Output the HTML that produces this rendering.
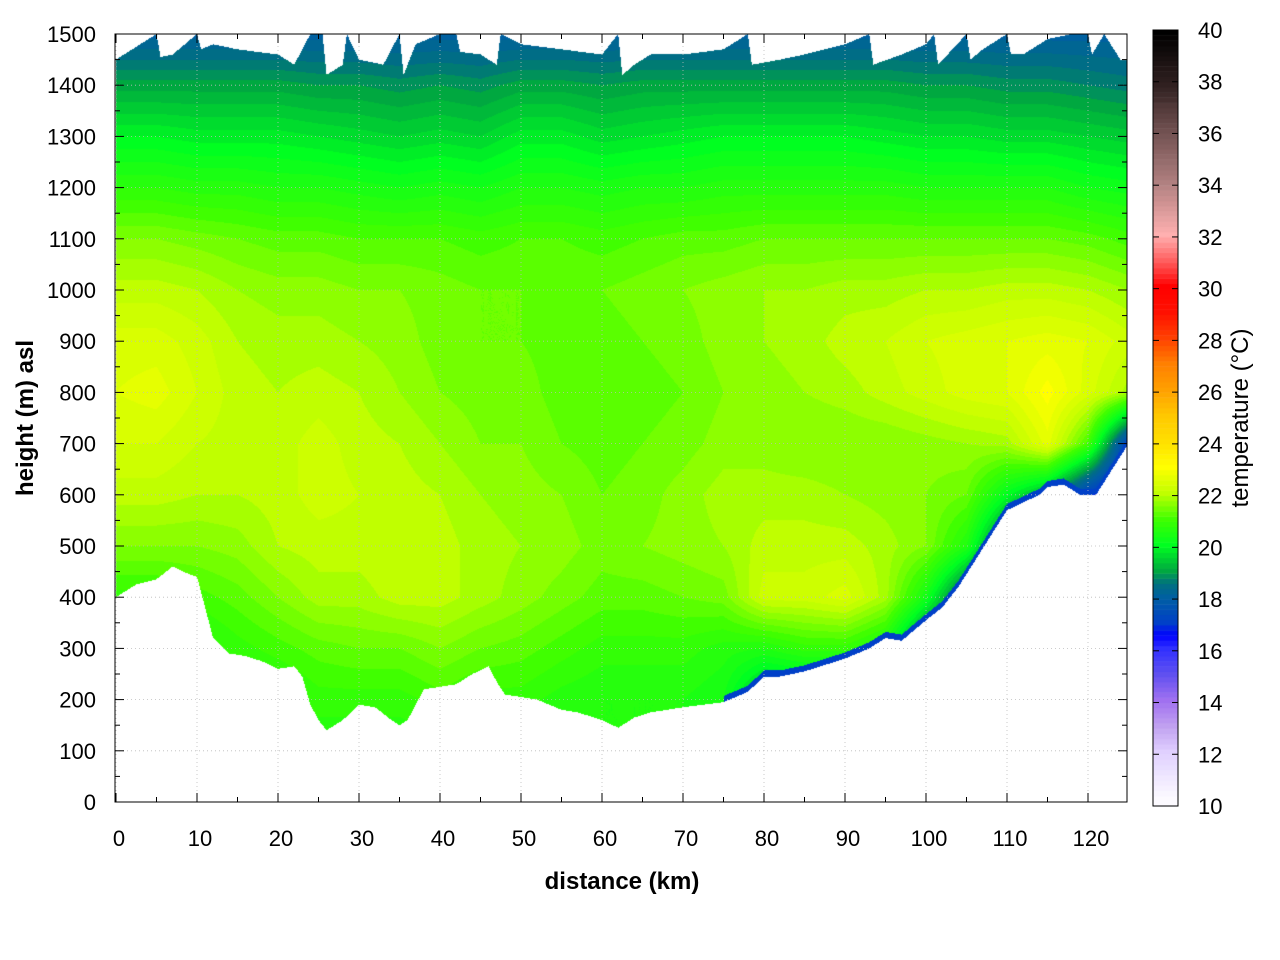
<!DOCTYPE html>
<html><head><meta charset="utf-8"><style>
html,body{margin:0;padding:0;background:#fff;width:1280px;height:960px;overflow:hidden}
#wrap{position:relative;width:1280px;height:960px}
canvas{position:absolute;left:0;top:0}
svg{position:absolute;left:0;top:0}
text{font-family:"Liberation Sans",sans-serif;fill:#000}
</style></head><body>
<div id="wrap">
<canvas id="heat" width="1280" height="960"></canvas>
<svg id="ov" width="1280" height="960"></svg>
</div>
<script>
const distances=[0,5,10,15,20,25,30,35,40,45,50,55,60,65,70,75,80,85,90,95,100,105,110,115,120,125];
const heights=[0,100,200,300,400,500,600,700,800,900,1000,1100,1200,1300,1400,1500];
const groundDist=[0,2.5,5,7,9,10,11,12,14,16,18,20,22,23,24,25,26,28,30,32,34,35,36,38,40,42,44,46,47,48,50,52,55,57,60,62,64,66,68,70,75,78,80,82,85,90,93,95,97,100,102,104,106,108,110,112,114,115,117,119,121,123,125];
const groundHeight=[400,425,435,460,445,440,380,320,290,285,275,260,265,245,190,160,140,160,190,185,160,150,160,220,225,230,250,265,235,210,205,200,180,175,160,145,165,175,180,185,195,215,245,245,255,280,300,320,315,355,380,420,470,520,570,585,600,615,620,600,600,650,700];
const topDist=[0,2.5,5,5.5,7,10,10.5,12,15,20,22,24,25.5,26,28,28.5,30,33,35,35.5,37,40,42,42.5,45,47,47.5,50,55,60,62,62.5,64,66,70,75,78,78.5,82,85,90,93,93.5,97,100,101,101.5,105,105.5,107,110,110.5,112,115,118,120,120.5,122,124,125];
const topHeight=[1450,1475,1500,1455,1460,1500,1470,1480,1470,1460,1440,1500,1500,1420,1440,1500,1450,1440,1500,1420,1480,1500,1500,1465,1460,1440,1500,1480,1470,1460,1500,1420,1440,1460,1460,1470,1500,1440,1450,1460,1480,1500,1440,1460,1480,1500,1440,1500,1450,1470,1500,1460,1460,1490,1500,1500,1460,1500,1450,1450];
const temps=[
[20.5,20.5,20.5,20.5,20.8,21.5,22,22.3,22.5,22.4,22,21.5,20.7,19.9,19.0,18.0],
[20.5,20.5,20.5,20.5,20.8,21.5,22,22.3,22.6,22.4,22,21.5,20.7,19.9,19.0,18.0],
[20.5,20.5,20.5,20.5,21,21.5,21.9,22.1,22.3,22.2,21.9,21.4,20.6,19.8,19.0,18.0],
[20.5,20.5,20.5,20.8,21.2,21.6,21.9,22,22,21.9,21.7,21.3,20.6,19.8,19.0,18.0],
[20.5,20.5,20.5,21,21.5,21.9,22,22,21.9,21.8,21.6,21.2,20.5,19.8,19.0,18.0],
[20.5,20.5,20.8,21.2,21.8,22,22.2,22.2,22,21.8,21.6,21.2,20.5,19.7,18.9,18.0],
[20.5,20.5,20.8,21.3,21.8,22,22.1,22,21.9,21.7,21.5,21.1,20.4,19.6,18.9,18.0],
[20.5,20.5,20.8,21.3,22,22.1,22,21.9,21.7,21.6,21.5,21.1,20.3,19.5,18.8,18.0],
[20.5,20.5,21,21.5,22,22,21.9,21.7,21.5,21.4,21.4,21.1,20.4,19.6,18.9,18.0],
[20.5,20.5,20.8,21.3,21.8,21.8,21.7,21.5,21.4,21.3,21.3,21.0,20.3,19.5,18.8,18.0],
[20.5,20.5,20.8,21.2,21.6,21.7,21.6,21.5,21.4,21.3,21.3,21.1,20.5,19.8,19.0,18.0],
[20.5,20.5,20.6,21,21.4,21.6,21.5,21.3,21.2,21.2,21.3,21.1,20.5,19.8,19.0,18.0],
[20.5,20.5,20.5,20.8,21.2,21.4,21.3,21.2,21.1,21.2,21.3,21.0,20.4,19.6,18.9,18.0],
[20.5,20.5,20.5,20.8,21.2,21.5,21.4,21.3,21.2,21.3,21.4,21.1,20.5,19.7,19.0,18.0],
[20.5,20.5,20.5,20.8,21.3,21.6,21.6,21.4,21.3,21.4,21.5,21.2,20.5,19.8,19.0,18.0],
[20.3,20.3,20.3,20.6,21.4,21.7,21.8,21.6,21.5,21.6,21.6,21.2,20.6,19.9,19.0,18.0],
[19,19,19,20.5,22.2,22,21.8,21.6,21.6,21.7,21.7,21.3,20.6,19.9,19.0,18.0],
[19,19,19,20.8,22.2,22,21.8,21.5,21.7,21.8,21.7,21.3,20.6,19.9,19.0,18.0],
[19,19,19,20.8,22.4,22,21.7,21.5,21.8,22,21.8,21.3,20.6,19.9,19.0,18.0],
[19,19,19,20.3,21.8,21.8,21.6,21.5,22,22.1,21.8,21.3,20.6,19.8,19.0,18.0],
[18,18,18,18,20.3,21.5,21.5,21.6,22.2,22.3,21.9,21.3,20.5,19.7,18.9,18.0],
[18,18,18,18,18,20.5,21.3,21.7,22.4,22.4,21.9,21.3,20.5,19.7,18.9,18.0],
[17,17,17,17,17,18,20,21.8,22.5,22.5,22,21.3,20.5,19.6,18.8,18.0],
[17,17,17,17,17,17,19,22.6,23,22.6,22,21.3,20.5,19.6,18.8,18.0],
[16,16,16,16,16,16,17,21,22.4,22.5,21.9,21.2,20.3,19.5,18.7,18.0],
[16,16,16,16,16,16,16,17,21.8,22.2,21.7,21.0,20.2,19.4,18.6,18.0]];
const xTicks=[0,10,20,30,40,50,60,70,80,90,100,110,120];
const yTicks=[0,100,200,300,400,500,600,700,800,900,1000,1100,1200,1300,1400,1500];
const cbTicks=[10,12,14,16,18,20,22,24,26,28,30,32,34,36,38,40];

const PL=115,PR=1127,PT=34,PB=802;
const X=d=>116+d*8.1;
const Y=h=>PB-(h/1500)*(PB-PT);
const CBT=30,CBB=806,CBL=1153,CBR=1178;
const CY=t=>CBB-(t-10)/30*(CBB-CBT);
const stops=[[10,[255,255,255]],[12,[224,208,255]],[13,[192,160,240]],[14,[160,112,240]],[15,[96,80,240]],[16,[48,48,255]],[16.5,[0,0,255]],[17,[0,64,200]],[18,[0,96,160]],[18.5,[0,112,128]],[19,[0,168,64]],[20,[0,255,32]],[21,[64,255,0]],[22,[192,255,0]],[23,[255,255,0]],[24,[255,224,0]],[25,[255,200,0]],[26,[255,160,0]],[27,[255,128,0]],[28,[255,64,0]],[29,[255,16,0]],[30,[255,0,0]],[31,[255,96,96]],[32,[255,176,176]],[34,[176,128,128]],[36,[112,80,80]],[38,[48,32,32]],[40,[0,0,0]]];
function col(t){t=Math.max(10,Math.min(40,Math.round(t*5)/5));
 for(let i=0;i<stops.length-1;i++){const a=stops[i],b=stops[i+1];if(t<=b[0]){const f=(t-a[0])/(b[0]-a[0]);return a[1].map((v,k)=>Math.round(v+(b[1][k]-v)*f));}}return [0,0,0];}
function interp(xs,ys,d){if(d<=xs[0])return ys[0];for(let i=0;i<xs.length-1;i++){if(d<=xs[i+1]){const f=(d-xs[i])/(xs[i+1]-xs[i]);return ys[i]*(1-f)+ys[i+1]*f;}}return ys[ys.length-1];}

const cv=document.getElementById('heat');const ctx=cv.getContext('2d');
const W=PR-PL,H=PB-PT;
const img=ctx.createImageData(W,H);
for(let px=0;px<W;px++){
 const d=(PL+px+0.5-116)/8.1; if(d<0)continue;
 const g=interp(groundDist,groundHeight,d),tp=interp(topDist,topHeight,d);
 let s=d/5,i=Math.min(Math.floor(s),distances.length-2),fx=Math.min(1,s-i);
 for(let py=0;py<H;py++){
  const h=(PB-(PT+py+0.5))/H*1500;
  if(h<g||h>tp)continue;
  let r=h/100,j=Math.min(Math.floor(r),heights.length-2),fy=r-j;
  let t=temps[i][j]*(1-fx)*(1-fy)+temps[i+1][j]*fx*(1-fy)+temps[i][j+1]*(1-fx)*fy+temps[i+1][j+1]*fx*fy;
  if(h-g<12&&d>75)t=Math.min(t,17);
  const c=col(t);const o=(py*W+px)*4;img.data[o]=c[0];img.data[o+1]=c[1];img.data[o+2]=c[2];img.data[o+3]=255;
 }}
ctx.putImageData(img,PL,PT);
for(let t=10;t<40;t+=0.2){const c=col(t+0.1);ctx.fillStyle=`rgb(${c})`;ctx.fillRect(CBL,CY(t+0.2),CBR-CBL,CY(t)-CY(t+0.2)+0.5);}

const sv=document.getElementById('ov');const NS='http://www.w3.org/2000/svg';
function el(tag,at,txt){const e=document.createElementNS(NS,tag);for(const k in at)e.setAttribute(k,at[k]);if(txt!==undefined)e.textContent=txt;sv.appendChild(e);return e;}
xTicks.forEach(v=>{const x=X(v);
 const gl=el('line',{x1:x,x2:x,y1:PT,y2:PB,stroke:'#bbb','stroke-width':0.8,'stroke-dasharray':'1,3'});
 
 el('line',{x1:x,x2:x,y1:PB,y2:PB-9,stroke:'#000'});el('line',{x1:x,x2:x,y1:PT,y2:PT+9,stroke:'#000'});
 const tl=el('text',{x:x+3,y:846,'font-size':22,'text-anchor':'middle'},String(v));
 });
for(let v=5;v<125;v+=10){const x=X(v);el('line',{x1:x,x2:x,y1:PB,y2:PB-5,stroke:'#000'});el('line',{x1:x,x2:x,y1:PT,y2:PT+5,stroke:'#000'});}
yTicks.forEach(v=>{const y=Y(v);
 const gl=el('line',{x1:PL,x2:PR,y1:y,y2:y,stroke:'#bbb','stroke-width':0.8,'stroke-dasharray':'1,3'});
 
 el('line',{x1:PL,x2:PL+9,y1:y,y2:y,stroke:'#000'});el('line',{x1:PR,x2:PR-9,y1:y,y2:y,stroke:'#000'});
 const tl=el('text',{x:96,y:y+8,'font-size':22,'text-anchor':'end'},String(v));
 });
for(let v=50;v<1500;v+=100){const y=Y(v);el('line',{x1:PL,x2:PL+5,y1:y,y2:y,stroke:'#000'});el('line',{x1:PR,x2:PR-5,y1:y,y2:y,stroke:'#000'});}
cbTicks.forEach(v=>{const y=CY(v);
 el('line',{x1:CBL,x2:CBL+6,y1:y,y2:y,stroke:'#000'});el('line',{x1:CBR,x2:CBR-6,y1:y,y2:y,stroke:'#000'});
 const tl=el('text',{x:1198,y:y+8,'font-size':22},String(v));
 });
const fr=el('rect',{x:PL,y:PT,width:PR-PL,height:PB-PT,fill:'none',stroke:'#000'});

const cb=el('rect',{x:CBL,y:CBT,width:CBR-CBL,height:CBB-CBT,fill:'none',stroke:'#000'});

const xl=el('text',{x:622,y:889,'font-size':24,'font-weight':'bold','text-anchor':'middle'},'distance (km)');

const yl=el('text',{x:0,y:0,'font-size':24,'font-weight':'bold','text-anchor':'middle',transform:'translate(33,418) rotate(-90)'},'height (m) asl');

const cl=el('text',{x:0,y:0,'font-size':24,'text-anchor':'middle',transform:'translate(1248,418) rotate(-90)'},'temperature (°C)');

</script>
</body></html>
